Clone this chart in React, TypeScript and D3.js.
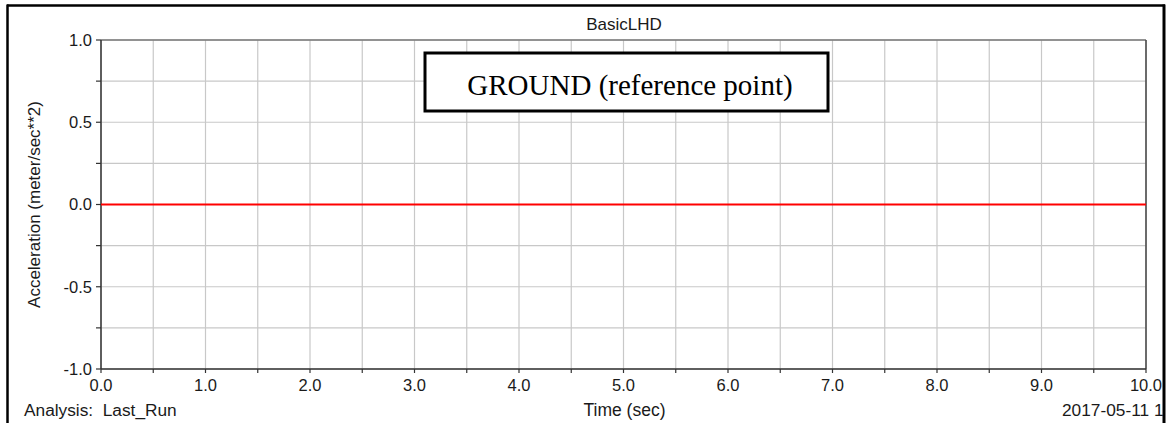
import React from "react";
import * as d3 from "d3";

const title = "BasicLHD";
const annotation = "GROUND (reference point)";
const xLabel = "Time (sec)";
const yLabel = "Acceleration (meter/sec**2)";
const analysisLabel = "Analysis:  Last_Run";
const dateLabel = "2017-05-11 1";

const timeValues = [0, 10];
const accelValues = [0, 0];

const xMajorTicks = [0, 1, 2, 3, 4, 5, 6, 7, 8, 9, 10];
const xMinorTicks = [0, 0.5, 1, 1.5, 2, 2.5, 3, 3.5, 4, 4.5, 5, 5.5, 6, 6.5, 7, 7.5, 8, 8.5, 9, 9.5, 10];
const yMajorTicks = [-1, -0.5, 0, 0.5, 1];
const yMinorTicks = [-1, -0.75, -0.5, -0.25, 0, 0.25, 0.5, 0.75, 1];

const W = 1170;
const H = 423;
const plot = { left: 101, right: 1146, top: 40, bottom: 369 };

const fmt = (v: number) => v.toFixed(1);

export default function App() {
  const x = d3.scaleLinear().domain([0, 10]).range([plot.left, plot.right]);
  const y = d3.scaleLinear().domain([-1, 1]).range([plot.bottom, plot.top]);
  const line = d3
    .line<number>()
    .x((_, i) => x(timeValues[i]))
    .y((d) => y(d));
  const font = "Arial, 'Liberation Sans', sans-serif";
  const textColor = "#1a1a1a";

  return (
    <svg
      width={W}
      height={H}
      style={{ position: "absolute", left: 0, top: 0, background: "#fff" }}
      fontFamily={font}
    >
      <rect x={0} y={0} width={W} height={H} fill="#fff" />
      <defs>
        <clipPath id="frameClip">
          <rect x={8} y={6} width={1155} height={H} />
        </clipPath>
      </defs>
      {/* grid */}
      {xMinorTicks.map((t) => (
        <line key={"gx" + t} x1={x(t)} x2={x(t)} y1={plot.top} y2={plot.bottom} stroke="#c8c8c8" strokeWidth={1.2} />
      ))}
      {yMinorTicks.map((t) => (
        <line key={"gy" + t} x1={plot.left} x2={plot.right} y1={y(t)} y2={y(t)} stroke="#c8c8c8" strokeWidth={1.2} />
      ))}
      {/* plot frame */}
      <line x1={plot.left} x2={plot.right} y1={plot.top} y2={plot.top} stroke="#777" strokeWidth={1.5} />
      <line x1={plot.right} x2={plot.right} y1={plot.top} y2={plot.bottom} stroke="#444" strokeWidth={1.5} />
      <line x1={plot.left} x2={plot.left} y1={plot.top} y2={plot.bottom} stroke="#333" strokeWidth={1.5} />
      <line x1={plot.left} x2={plot.right} y1={plot.bottom} y2={plot.bottom} stroke="#333" strokeWidth={1.5} />
      {/* ticks */}
      {yMinorTicks.map((t) => (
        <line key={"ty" + t} x1={plot.left - 5} x2={plot.left} y1={y(t)} y2={y(t)} stroke="#333" strokeWidth={1.2} />
      ))}
      {xMinorTicks.map((t) => (
        <line key={"tx" + t} x1={x(t)} x2={x(t)} y1={plot.bottom} y2={plot.bottom + 4} stroke="#333" strokeWidth={1.2} />
      ))}
      {/* tick labels */}
      {yMajorTicks.map((t) => (
        <text key={"ly" + t} x={plot.left - 9} y={y(t)} dy="0.36em" textAnchor="end" fontSize={16.5} fill={textColor}>
          {fmt(t)}
        </text>
      ))}
      {xMajorTicks.map((t) => (
        <text key={"lx" + t} x={x(t)} y={391} textAnchor="middle" fontSize={16.5} fill={textColor}>
          {fmt(t)}
        </text>
      ))}
      {/* data line */}
      <path d={line(accelValues) || ""} fill="none" stroke="#ff0000" strokeWidth={2} />
      {/* titles */}
      <text x={624} y={30} textAnchor="middle" fontSize={17} fill={textColor}>
        {title}
      </text>
      <text
        transform={`translate(40, ${(plot.top + plot.bottom) / 2}) rotate(-90)`}
        textAnchor="middle"
        fontSize={17}
        fill={textColor}
      >
        {yLabel}
      </text>
      <text x={624.5} y={416} textAnchor="middle" fontSize={17.5} fill={textColor}>
        {xLabel}
      </text>
      <text x={24} y={416} fontSize={17.3} fill={textColor} style={{ whiteSpace: "pre" }}>
        {analysisLabel}
      </text>
      <g clipPath="url(#frameClip)">
        <text x={1062} y={416} fontSize={17.3} fill={textColor}>
          {dateLabel}
        </text>
      </g>
      {/* annotation box */}
      <rect x={425} y={53} width={403} height={58} fill="#fff" stroke="#000" strokeWidth={3} />
      <text
        x={630}
        y={95}
        textAnchor="middle"
        fontSize={29}
        fontFamily="'Times New Roman', 'Liberation Serif', serif"
        fill="#000"
      >
        {annotation}
      </text>
      {/* outer border */}
      <line x1={7} x2={1165} y1={5.5} y2={5.5} stroke="#000" strokeWidth={2.5} />
      <line x1={7.5} x2={7.5} y1={4.5} y2={H} stroke="#000" strokeWidth={2.5} />
      <line x1={1164} x2={1164} y1={4.5} y2={H} stroke="#000" strokeWidth={3} />
    </svg>
  );
}
